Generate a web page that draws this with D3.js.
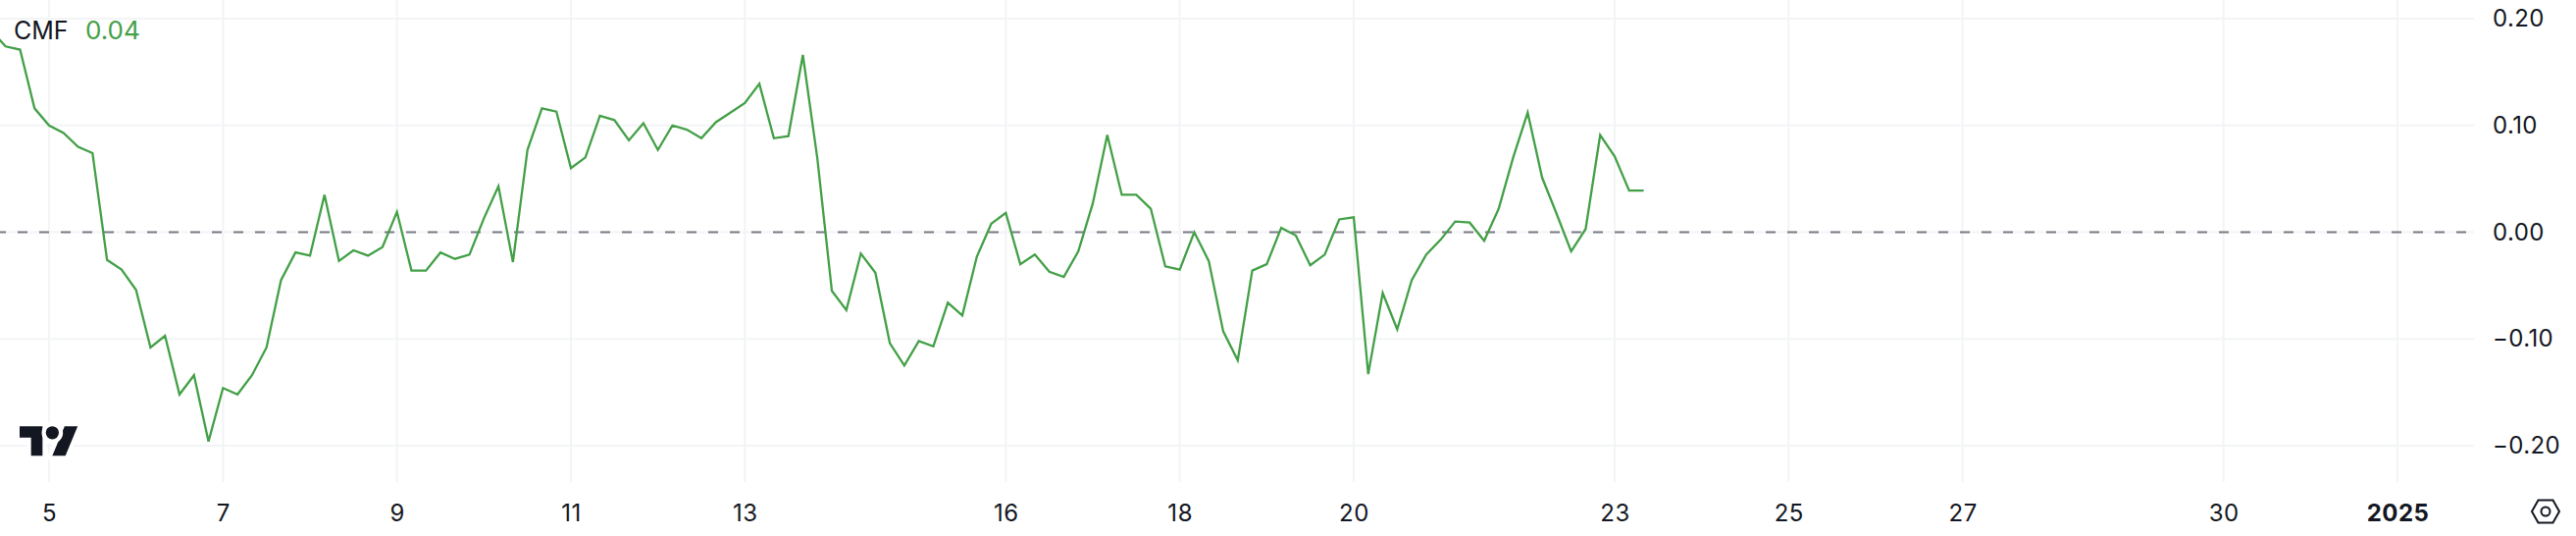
<!DOCTYPE html>
<html>
<head>
<meta charset="utf-8">
<script src="https://cdn.jsdelivr.net/npm/d3@7"></script>
<style>
  html, body {margin:0; padding:0; background:#fff;}
  svg {display:block;}
  text {font-family:Inter, "Noto Sans", sans-serif; fill:#131722;}
</style>
</head>
<body>
<svg width="2626" height="546"></svg>
<script>
// 4 hourly CMF readings, first one is Dec 4 2024 08:00
var startTime = Date.UTC(2024, 11, 4, 8),
    stepHours = 4;

var cmf = [
  0.189, 0.174, 0.171, 0.116, 0.100, 0.093, 0.080, 0.074, -0.026, -0.035,
  -0.054, -0.108, -0.097, -0.152, -0.134, -0.196, -0.146, -0.152, -0.134, -0.108,
  -0.045, -0.019, -0.022, 0.035, -0.027, -0.017, -0.022, -0.014, 0.019, -0.036,
  -0.036, -0.019, -0.025, -0.021, 0.013, 0.043, -0.028, 0.077, 0.116, 0.113,
  0.060, 0.070, 0.109, 0.105, 0.086, 0.102, 0.077, 0.100, 0.096, 0.088,
  0.103, 0.112, 0.121, 0.139, 0.088, 0.090, 0.166, 0.069, -0.055, -0.073,
  -0.020, -0.038, -0.104, -0.125, -0.102, -0.107, -0.066, -0.078, -0.023, 0.008,
  0.018, -0.030, -0.021, -0.037, -0.042, -0.018, 0.027, 0.091, 0.035, 0.035,
  0.022, -0.032, -0.035, 0.000, -0.027, -0.093, -0.120, -0.036, -0.030, 0.004,
  -0.003, -0.031, -0.021, 0.012, 0.014, -0.133, -0.057, -0.091, -0.045, -0.021,
  -0.007, 0.010, 0.009, -0.008, 0.022, 0.070, 0.112, 0.051, 0.017, -0.018,
  0.003, 0.091, 0.071, 0.039, 0.039
];

var xTickDates = [
  Date.UTC(2024, 11, 5), Date.UTC(2024, 11, 7), Date.UTC(2024, 11, 9), Date.UTC(2024, 11, 11),
  Date.UTC(2024, 11, 13), Date.UTC(2024, 11, 16), Date.UTC(2024, 11, 18), Date.UTC(2024, 11, 20),
  Date.UTC(2024, 11, 23), Date.UTC(2024, 11, 25), Date.UTC(2024, 11, 27), Date.UTC(2024, 11, 30),
  Date.UTC(2025, 0, 1)
];
var xTickLabels = ["5", "7", "9", "11", "13", "16", "18", "20", "23", "25", "27", "30", "2025"];
var yTicks = [0.20, 0.10, 0.00, -0.10, -0.20];

var svg = d3.select("svg"),
    plotRight = 2522,
    plotBottom = 491;

var x = d3.scaleUtc()
    .domain([Date.UTC(2024, 11, 5), Date.UTC(2025, 0, 1)])
    .range([50, 2444]);

var y = d3.scaleLinear()
    .domain([-0.2, 0.2])
    .range([454, 19]);

// grid
svg.append("g").selectAll("line")
    .data(xTickDates)
    .enter().append("line")
    .attr("x1", function(d) { return x(d); })
    .attr("x2", function(d) { return x(d); })
    .attr("y1", 0)
    .attr("y2", plotBottom)
    .attr("stroke", "#f3f4f6")
    .attr("stroke-width", 2);

svg.append("g").selectAll("line")
    .data(yTicks)
    .enter().append("line")
    .attr("x1", 0)
    .attr("x2", plotRight)
    .attr("y1", function(d) { return y(d); })
    .attr("y2", function(d) { return y(d); })
    .attr("stroke", "#f3f4f6")
    .attr("stroke-width", 2);

// zero level
svg.append("line")
    .attr("x1", 0)
    .attr("x2", plotRight)
    .attr("y1", y(0))
    .attr("y2", y(0))
    .attr("stroke", "#787b86")
    .attr("stroke-width", 2)
    .attr("stroke-dasharray", "10 12")
    .attr("stroke-dashoffset", 4);

// line
var line = d3.line()
    .x(function(d, i) { return x(startTime + i * stepHours * 3600000); })
    .y(function(d) { return y(d); });

svg.append("path")
    .datum(cmf)
    .attr("d", line)
    .attr("fill", "none")
    .attr("stroke", "#43a047")
    .attr("stroke-width", 2.3);

// axes
var xAxis = d3.axisBottom(x)
    .tickValues(xTickDates)
    .tickSize(0)
    .tickPadding(0)
    .tickFormat(function(d, i) { return xTickLabels[i]; });

var gx = svg.append("g")
    .attr("transform", "translate(0,514)")
    .call(xAxis);
gx.select(".domain").remove();
gx.selectAll("text")
    .attr("y", 0)
    .attr("dy", "0.72em")
    .style("font-family", "Inter")
    .style("font-size", "24px")
    .style("letter-spacing", "0.5px")
    .style("fill", "#131722")
    .style("font-weight", function(d, i) { return xTickLabels[i] == "2025" ? 700 : 400; });

var yAxis = d3.axisRight(y)
    .tickValues(yTicks)
    .tickSize(0)
    .tickPadding(19)
    .tickFormat(d3.format(".2f"));

var gy = svg.append("g")
    .attr("transform", "translate(" + plotRight + ",0)")
    .call(yAxis);
gy.select(".domain").remove();
gy.selectAll("text")
    .style("font-family", "Inter")
    .style("font-size", "24px")
    .style("letter-spacing", "0.4px")
    .style("fill", "#131722");

// legend
svg.append("text").attr("x", 14).attr("y", 40)
    .style("font-size", "25px")
    .text("CMF");
svg.append("text").attr("x", 87).attr("y", 40)
    .style("font-size", "26px")
    .style("fill", "#43a047")
    .text("0.04");

// tradingview logo, white halo cuts the grid
var logo = svg.append("g").attr("transform", "translate(20,427.5) scale(1.667)");
logo.append("path")
    .attr("d", "M14 22H7V11H0V4h14v18zM28 22h-8l7.5-18h8L28 22z")
    .attr("fill", "#131722")
    .attr("stroke", "#fff")
    .attr("stroke-width", 5)
    .style("paint-order", "stroke");
logo.append("circle")
    .attr("cx", 20)
    .attr("cy", 8)
    .attr("r", 4)
    .attr("fill", "#131722")
    .attr("stroke", "#fff")
    .attr("stroke-width", 5)
    .style("paint-order", "stroke");

// settings hexagon
var icon = svg.append("g").attr("transform", "translate(2595,521)");
icon.append("path")
    .attr("d", "M-14 0L-7.5 -11.5H7.5L14 0L7.5 11.5H-7.5Z")
    .attr("fill", "none")
    .attr("stroke", "#131722")
    .attr("stroke-width", 2);
icon.append("circle")
    .attr("r", 4.5)
    .attr("fill", "none")
    .attr("stroke", "#131722")
    .attr("stroke-width", 2);
</script>
</body>
</html>
